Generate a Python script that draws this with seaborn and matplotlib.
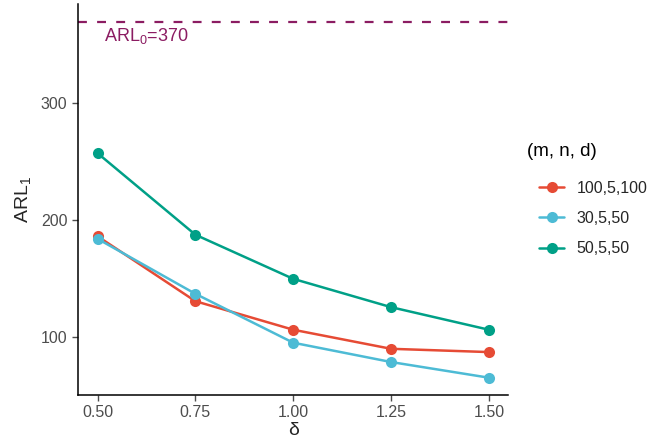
import matplotlib
matplotlib.use("Agg")
import matplotlib.pyplot as plt
import seaborn as sns
import pandas as pd

# shift sizes and out-of-control ARL for each (m, n, d) design
delta = [0.50, 0.75, 1.00, 1.25, 1.50]
arl_100_5_100 = [186.5, 131.0, 106.6, 90.3, 87.5]
arl_30_5_50 = [184.3, 137.3, 95.5, 79.0, 65.6]
arl_50_5_50 = [257.5, 187.8, 150.1, 125.9, 106.6]
groups = ["100,5,100", "30,5,50", "50,5,50"]
arl0 = 370
x_ticks = [0.50, 0.75, 1.00, 1.25, 1.50]
y_ticks = [100, 200, 300]

df = pd.DataFrame({
    "delta": delta * 3,
    "arl": arl_100_5_100 + arl_30_5_50 + arl_50_5_50,
    "group": [g for g in groups for _ in delta],
})

sns.set_style("white")
plt.rcParams["font.family"] = ["Liberation Sans", "DejaVu Sans"]
plt.rcParams["mathtext.fontset"] = "custom"
plt.rcParams["mathtext.rm"] = "Liberation Sans"
plt.rcParams["mathtext.it"] = "Liberation Sans:italic"

palette = {"100,5,100": "#E64B35", "30,5,50": "#4DBBD5", "50,5,50": "#00A087"}
ref_color = "#8B1C62"

fig = plt.figure(figsize=(6.51, 4.47), dpi=100)
ax = fig.add_axes([0.1198, 0.1163, 0.6612, 0.8747])

sns.lineplot(data=df, x="delta", y="arl", hue="group", hue_order=groups,
             palette=palette, marker="o", markersize=8, markeredgewidth=0,
             linewidth=1.8, ax=ax)

ax.axhline(arl0, color=ref_color, linestyle=(0, (4, 4.6)), linewidth=1.6)
ax.text(0.517, 358, r"ARL$_0$=370", color=ref_color, fontsize=13,
        ha="left", va="center")

ax.set_xlim(0.45, 1.55)
ax.set_ylim(50.8, 385)
ax.set_xticks(x_ticks)
ax.set_xticklabels([f"{v:.2f}" for v in x_ticks])
ax.set_yticks(y_ticks)
ax.tick_params(axis="both", colors="#4D4D4D", labelsize=11.5, length=4,
               width=1, direction="out", left=True, bottom=True)
for lab in ax.get_xticklabels() + ax.get_yticklabels():
    lab.set_color("#4D4D4D")

for side in ["top", "right"]:
    ax.spines[side].set_visible(False)
for side in ["left", "bottom"]:
    ax.spines[side].set_color("black")
    ax.spines[side].set_linewidth(1.1)

ax.set_xlabel("δ", fontsize=14, labelpad=1)
ax.set_ylabel(r"ARL$_1$", fontsize=14, labelpad=6)

# legend keys sit slightly indented under the legend title
handles, labels = ax.get_legend_handles_labels()
ax.legend(handles, labels, loc="upper left",
          bbox_transform=fig.transFigure,
          bbox_to_anchor=(526 / 651, 1 - 168 / 447), frameon=False,
          fontsize=11.5, handlelength=1.6, labelspacing=0.95,
          handletextpad=0.75, borderpad=0.3)
fig.text(527 / 651, 1 - 152 / 447, "(m, n, d)", fontsize=13.5,
         ha="left", va="center", color="black")

fig.savefig("out.png", dpi=100)
